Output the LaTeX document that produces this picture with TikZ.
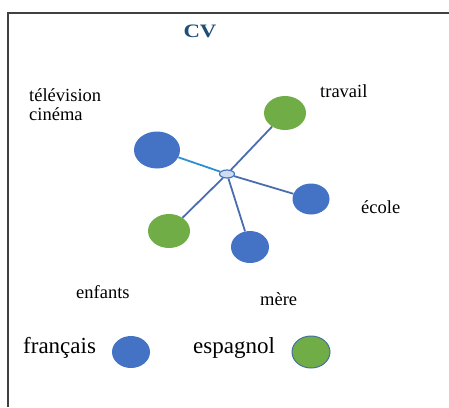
\documentclass[tikz,border=0pt]{standalone}
\usepackage{fontspec}
\setmainfont{Liberation Serif}
\usetikzlibrary{shapes.geometric}
\definecolor{bleu}{HTML}{4472C4}
\definecolor{vert}{HTML}{70AD47}
\definecolor{trait}{HTML}{4A6DB0}
\definecolor{clair}{HTML}{2E8FD0}
\definecolor{titre}{HTML}{1F4E79}
\definecolor{bord}{HTML}{41719C}
\tikzset{
  bulle/.style 2 args={ellipse, inner sep=0pt, minimum width=#1, minimum height=#2},
  lien/.style={trait, line width=1.8pt},
  mot/.style={font=\rmfamily\fontsize{18.5}{20}\selectfont, inner sep=0pt, anchor=base west},
  legende/.style={font=\rmfamily\fontsize{23}{25}\selectfont, inner sep=0pt, anchor=base west}
}
\begin{document}
\begin{tikzpicture}[x=1pt,y=-1pt]
    \useasboundingbox (0,0) rectangle (449,407);
    \draw[line width=1.5pt, black!75] (8,407) -- (8,13) -- (449,13);
    \node[font=\rmfamily\bfseries\fontsize{19}{21}\selectfont, text=titre, xscale=1.2, inner sep=0pt, anchor=base] (cv) at (200,37) {CV};
    % bulles
    \node[bulle={46pt}{37pt}, fill=bleu] (tele) at (157,150) {};
    \node[bulle={42pt}{34pt}, fill=vert] (travail) at (285,113) {};
    \node[bulle={37pt}{31pt}, fill=bleu] (ecole) at (311,199) {};
    \node[bulle={42pt}{34pt}, fill=vert] (enfants) at (169,231) {};
    \node[bulle={38pt}{32pt}, fill=bleu] (mere) at (250,247) {};
    \node[bulle={15pt}{8pt}, draw=bleu, fill=bleu!25, line width=1.2pt] (centre) at (227,174) {};
    \draw[lien, clair] (centre) -- (tele);
    \foreach \b in {travail,ecole,enfants,mere}{
        \draw[lien] (centre) -- (\b);
        };
    % textes
    \node[mot] (t1) at (29,101) {télévision};
    \node[mot] (t2) at (29,120) {cinéma};
    \node[mot] (t3) at (320,97) {travail};
    \node[mot] (t4) at (361,213) {école};
    \node[mot] (t5) at (76,298) {enfants};
    \node[mot] (t6) at (260,305) {mère};
    % legende
    \node[legende] (fr) at (23,353) {français};
    \node[bulle={38pt}{32pt}, fill=bleu] (lfr) at (131,352) {};
    \node[legende] (es) at (193,353) {espagnol};
    \node[bulle={38pt}{32pt}, fill=vert, draw=bord, line width=1pt] (les) at (311,352) {};
\end{tikzpicture}
\end{document}
